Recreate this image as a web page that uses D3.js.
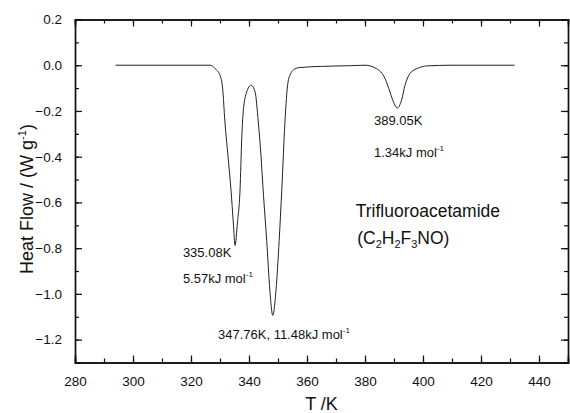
<!DOCTYPE html>
<html>
<head>
<meta charset="utf-8">
<script src="https://cdn.jsdelivr.net/npm/d3@7"></script>
<style>
  body { margin: 0; background: #fff; }
  text { font-family: "Liberation Sans", Arial, sans-serif; fill: #111; }
</style>
</head>
<body>
<div id="chart"></div>
<script>
// DSC trace (T in K, heat flow in W/g)
const temps = [294, 310, 326.6, 328.3, 330, 330.9, 331.7, 332.7, 333.8, 334.6, 335.2,
  336, 336.9, 337.5, 338, 339.2, 340.7, 342.1, 343.2, 344.1, 345, 346.1, 347.2, 348.2,
  349.3, 350.4, 351.3, 352.4, 353.2, 354.1, 355.9, 357.6, 365, 375, 380, 384, 386.9,
  388.6, 389.8, 391.1, 392.6, 393.8, 395.5, 398.4, 401.3, 410, 431.6];
const heatFlow = [0, 0, 0, -0.015, -0.044, -0.10, -0.248, -0.39, -0.547, -0.69, -0.788,
  -0.69, -0.547, -0.32, -0.204, -0.117, -0.0875, -0.117, -0.248, -0.39, -0.57, -0.766, -0.985, -1.094,
  -0.985, -0.766, -0.547, -0.248, -0.10, -0.044, -0.015, -0.01, -0.005, -0.002, 0, -0.015, -0.058,
  -0.117, -0.16, -0.187, -0.153, -0.0875, -0.036, -0.012, -0.003, 0, 0];

const xTicks = [280, 300, 320, 340, 360, 380, 400, 420, 440];
const yTicks = [0.2, 0.0, -0.2, -0.4, -0.6, -0.8, -1.0, -1.2];

// peak annotations: anchor in data units, text, superscript
const notes = [
  { t: 317.2, v: -0.838, text: "335.08K", sup: "" },
  { t: 317.2, v: -0.954, text: "5.57kJ mol", sup: "-1" },
  { t: 329.3, v: -1.199, text: "347.76K, 11.48kJ mol", sup: "-1" },
  { t: 383.1, v: -0.263, text: "389.05K", sup: "" },
  { t: 383.1, v: -0.40, text: "1.34kJ mol", sup: "-1" }
];

const width = 570, height = 413;
const margin = { top: 19.5, right: 2, bottom: 50.5, left: 75 };

const x = d3.scaleLinear().domain([280, 450]).range([margin.left, width - margin.right]);
const y = d3.scaleLinear().domain([-1.3, 0.2]).range([height - margin.bottom, margin.top]);

const svg = d3.select("#chart").append("svg")
  .attr("width", width).attr("height", height);

const minorX = d3.range(280, 451, 10);
const minorY = d3.range(-13, 3).map(d => d / 10);

// axes: ticks pointing inward, mirrored on top and right
svg.append("g")
  .attr("transform", `translate(0,${y.range()[0]})`)
  .call(d3.axisBottom(x).tickValues(xTicks).tickSize(-7).tickPadding(14).tickFormat(d3.format("d")));
svg.append("g")
  .attr("transform", `translate(0,${y.range()[1]})`)
  .call(d3.axisTop(x).tickValues(xTicks).tickSize(-7).tickFormat(""));
svg.append("g")
  .attr("transform", `translate(${x.range()[0]},0)`)
  .call(d3.axisLeft(y).tickValues(yTicks).tickSize(-7).tickPadding(13).tickFormat(d3.format(".1f")));
svg.append("g")
  .attr("transform", `translate(${x.range()[1]},0)`)
  .call(d3.axisRight(y).tickValues(yTicks).tickSize(-7).tickFormat(""));

// minor ticks
svg.append("g").attr("transform", `translate(0,${y.range()[0]})`)
  .call(d3.axisBottom(x).tickValues(minorX).tickSize(-4).tickFormat(""));
svg.append("g").attr("transform", `translate(0,${y.range()[1]})`)
  .call(d3.axisTop(x).tickValues(minorX).tickSize(-4).tickFormat(""));
svg.append("g").attr("transform", `translate(${x.range()[0]},0)`)
  .call(d3.axisLeft(y).tickValues(minorY).tickSize(-4).tickFormat(""));
svg.append("g").attr("transform", `translate(${x.range()[1]},0)`)
  .call(d3.axisRight(y).tickValues(minorY).tickSize(-4).tickFormat(""));

svg.selectAll(".domain").attr("stroke", "#111").attr("stroke-width", 1.4);
svg.selectAll(".tick line").attr("stroke", "#111").attr("stroke-width", 1.2);
svg.selectAll(".tick text").attr("font-size", 13.5).attr("fill", "#111")
  .attr("font-family", "Liberation Sans, Arial, sans-serif");

// the trace
const pts = temps.map((t, i) => [t, heatFlow[i]]);
const line = d3.line().x(d => x(d[0])).y(d => y(d[1])).curve(d3.curveMonotoneX);
svg.append("path")
  .datum(pts)
  .attr("d", line)
  .attr("fill", "none")
  .attr("stroke", "#222")
  .attr("stroke-width", 1);

// annotations
notes.forEach(n => {
  const t = svg.append("text")
    .attr("x", x(n.t)).attr("y", y(n.v))
    .attr("font-size", 13)
    .text(n.text);
  if (n.sup) t.append("tspan").attr("font-size", 8).attr("dy", -6).text(n.sup);
});

// compound name
svg.append("text")
  .attr("x", x(376.8)).attr("y", y(-0.664))
  .attr("font-size", 17.5)
  .text("Trifluoroacetamide");
const formula = svg.append("text")
  .attr("x", x(377.3)).attr("y", y(-0.78))
  .attr("font-size", 17.5);
formula.append("tspan").text("(C");
formula.append("tspan").attr("font-size", 11).attr("dy", 4).text("2");
formula.append("tspan").attr("dy", -4).text("H");
formula.append("tspan").attr("font-size", 11).attr("dy", 4).text("2");
formula.append("tspan").attr("dy", -4).text("F");
formula.append("tspan").attr("font-size", 11).attr("dy", 4).text("3");
formula.append("tspan").attr("dy", -4).text("NO)");

// axis titles
svg.append("text")
  .attr("x", (x.range()[0] + x.range()[1]) / 2).attr("y", 410)
  .attr("text-anchor", "middle").attr("font-size", 18)
  .text("T /K");
const yt = svg.append("text")
  .attr("transform", `translate(33,${(y.range()[0] + y.range()[1]) / 2 + 8}) rotate(-90)`)
  .attr("text-anchor", "middle").attr("font-size", 18)
  .text("Heat Flow / (W g");
yt.append("tspan").attr("font-size", 11).attr("dy", -7).text("-1");
yt.append("tspan").attr("dy", 7).text(")");
</script>
</body>
</html>
